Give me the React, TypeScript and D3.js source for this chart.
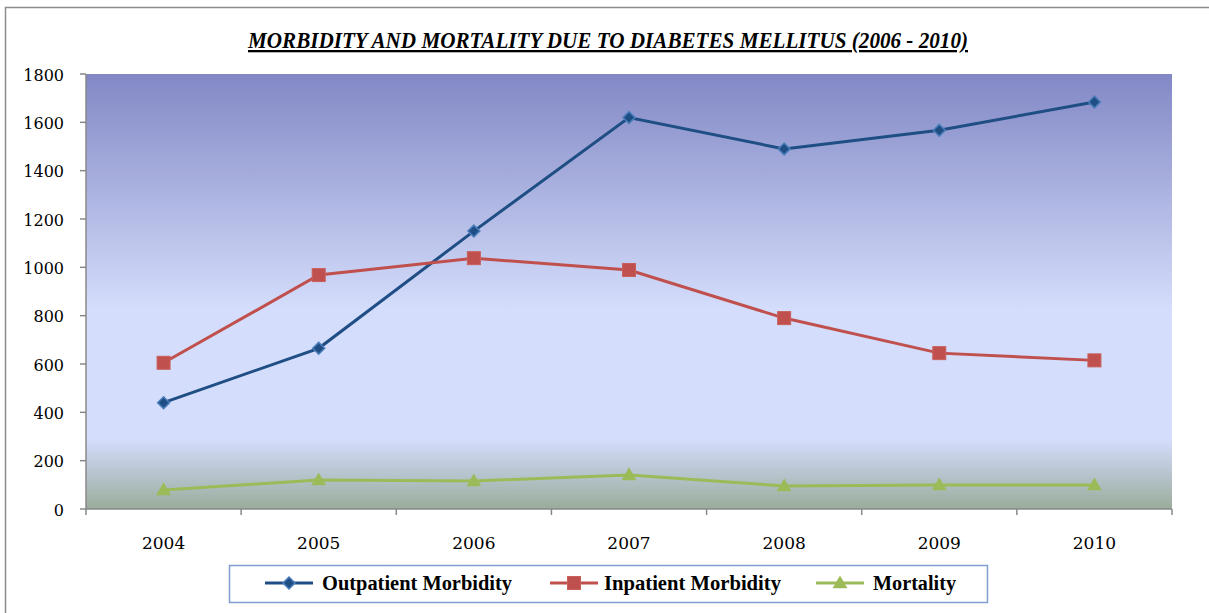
import React from 'react';
import * as d3 from 'd3';

const years = ['2004', '2005', '2006', '2007', '2008', '2009', '2010'];
const outpatient = [440, 665, 1150, 1620, 1490, 1567, 1684];
const inpatient = [605, 968, 1038, 989, 790, 645, 615];
const mortality = [79, 120, 116, 141, 95, 99, 99];
const yTicks = [0, 200, 400, 600, 800, 1000, 1200, 1400, 1600, 1800];

const series = [
  { name: 'Outpatient Morbidity', values: outpatient, color: '#1F4E84', marker: 'diamond' },
  { name: 'Inpatient Morbidity', values: inpatient, color: '#C0504D', marker: 'square' },
  { name: 'Mortality', values: mortality, color: '#9BBB59', marker: 'triangle' }
];

const W = 1209;
const H = 613;
const plot = { left: 86, right: 1172, top: 74, bottom: 509 };

function Marker({ kind, x, y, color }: { kind: string; x: number; y: number; color: string }) {
  if (kind === 'diamond') {
    const p = d3.symbol().type(d3.symbolDiamond2).size(90)();
    return <path d={p || ''} transform={`translate(${x},${y})`} fill={color} stroke="#4A7EBB" strokeWidth={1.5} />;
  }
  if (kind === 'square') {
    return <rect x={x - 6.5} y={y - 6.5} width={13} height={13} fill={color} stroke="#C9605C" strokeWidth={1} />;
  }
  const p = d3.symbol().type(d3.symbolTriangle).size(95)();
  return <path d={p || ''} transform={`translate(${x},${y + 1})`} fill={color} />;
}

export default function App() {
  const x = d3.scaleBand().domain(years).range([plot.left, plot.right]);
  const y = d3.scaleLinear().domain([0, 1800]).range([plot.bottom, plot.top]);
  const cx = (d: string) => (x(d) || 0) + x.bandwidth() / 2;
  const line = d3.line<number>().x((_, i) => cx(years[i])).y(d => y(d));
  const bounds = years.map(d => x(d) || 0).concat([plot.right]);

  // legend slots: sample line start, text start, text width
  const legendItems = [
    { lineX: 265, textX: 322, textLen: 190 },
    { lineX: 550, textX: 604, textLen: 177 },
    { lineX: 816, textX: 873, textLen: 83 }
  ];

  return (
    <svg width={W} height={H} style={{ position: 'absolute', left: 0, top: 0, display: 'block' }}>
      <defs>
        <linearGradient id="bg" x1="0" y1="0" x2="0" y2="1">
          <stop offset="0" stopColor="#8288C5" />
          <stop offset="0.54" stopColor="#D4DDFB" />
          <stop offset="0.84" stopColor="#D4DDFB" />
          <stop offset="0.92" stopColor="#B7C4CE" />
          <stop offset="1" stopColor="#9AAC9A" />
        </linearGradient>
      </defs>
      <rect x={0} y={0} width={W} height={H} fill="#fff" />
      <rect x={5.5} y={7.5} width={W + 10} height={H + 10} fill="none" stroke="#8C8C8C" strokeWidth={1.5} />

      <text x={608} y={48} textAnchor="middle" fontFamily="Liberation Serif" fontWeight="bold" fontStyle="italic"
        fontSize={23} textLength={720} lengthAdjust="spacingAndGlyphs" textDecoration="underline" fill="#000">
        MORBIDITY AND MORTALITY DUE TO DIABETES MELLITUS (2006 - 2010)
      </text>

      <rect x={plot.left} y={plot.top} width={plot.right - plot.left} height={plot.bottom - plot.top} fill="url(#bg)" />

      {/* y axis */}
      <line x1={plot.left} x2={plot.left} y1={plot.top} y2={plot.bottom} stroke="#888" strokeWidth={1.5} />
      {yTicks.map(t => (
        <g key={t}>
          <line x1={plot.left - 6} x2={plot.left} y1={y(t)} y2={y(t)} stroke="#888" strokeWidth={1.5} />
          <text x={64} y={y(t) + 6.5} textAnchor="end" fontFamily="DejaVu Serif" fontSize={16} fill="#000">{t}</text>
        </g>
      ))}

      {/* x axis */}
      <line x1={plot.left} x2={plot.right} y1={plot.bottom} y2={plot.bottom} stroke="#888" strokeWidth={1.5} />
      {bounds.map((b, i) => (
        <line key={i} x1={b} x2={b} y1={plot.bottom} y2={plot.bottom + 6} stroke="#888" strokeWidth={1.5} />
      ))}
      {years.map(d => (
        <text key={d} x={cx(d)} y={549} textAnchor="middle" fontFamily="DejaVu Serif" fontSize={17} fill="#000">{d}</text>
      ))}

      {series.map(s => (
        <g key={s.name}>
          <path d={line(s.values) || ''} fill="none" stroke={s.color} strokeWidth={3} />
          {s.values.map((v, i) => (
            <Marker key={i} kind={s.marker} x={cx(years[i])} y={y(v)} color={s.color} />
          ))}
        </g>
      ))}

      {/* legend */}
      <rect x={229.5} y={565.5} width={758} height={37} fill="#fff" stroke="#7F9FCF" strokeWidth={1.5} />
      {series.map((s, i) => {
        const it = legendItems[i];
        const ly = 583;
        return (
          <g key={s.name}>
            <line x1={it.lineX} x2={it.lineX + 48} y1={ly} y2={ly} stroke={s.color} strokeWidth={3} />
            <Marker kind={s.marker} x={it.lineX + 24} y={ly} color={s.color} />
            <text x={it.textX} y={ly + 7} fontFamily="Liberation Serif" fontWeight="bold" fontSize={20}
              textLength={it.textLen} lengthAdjust="spacingAndGlyphs" fill="#000">{s.name}</text>
          </g>
        );
      })}
    </svg>
  );
}
